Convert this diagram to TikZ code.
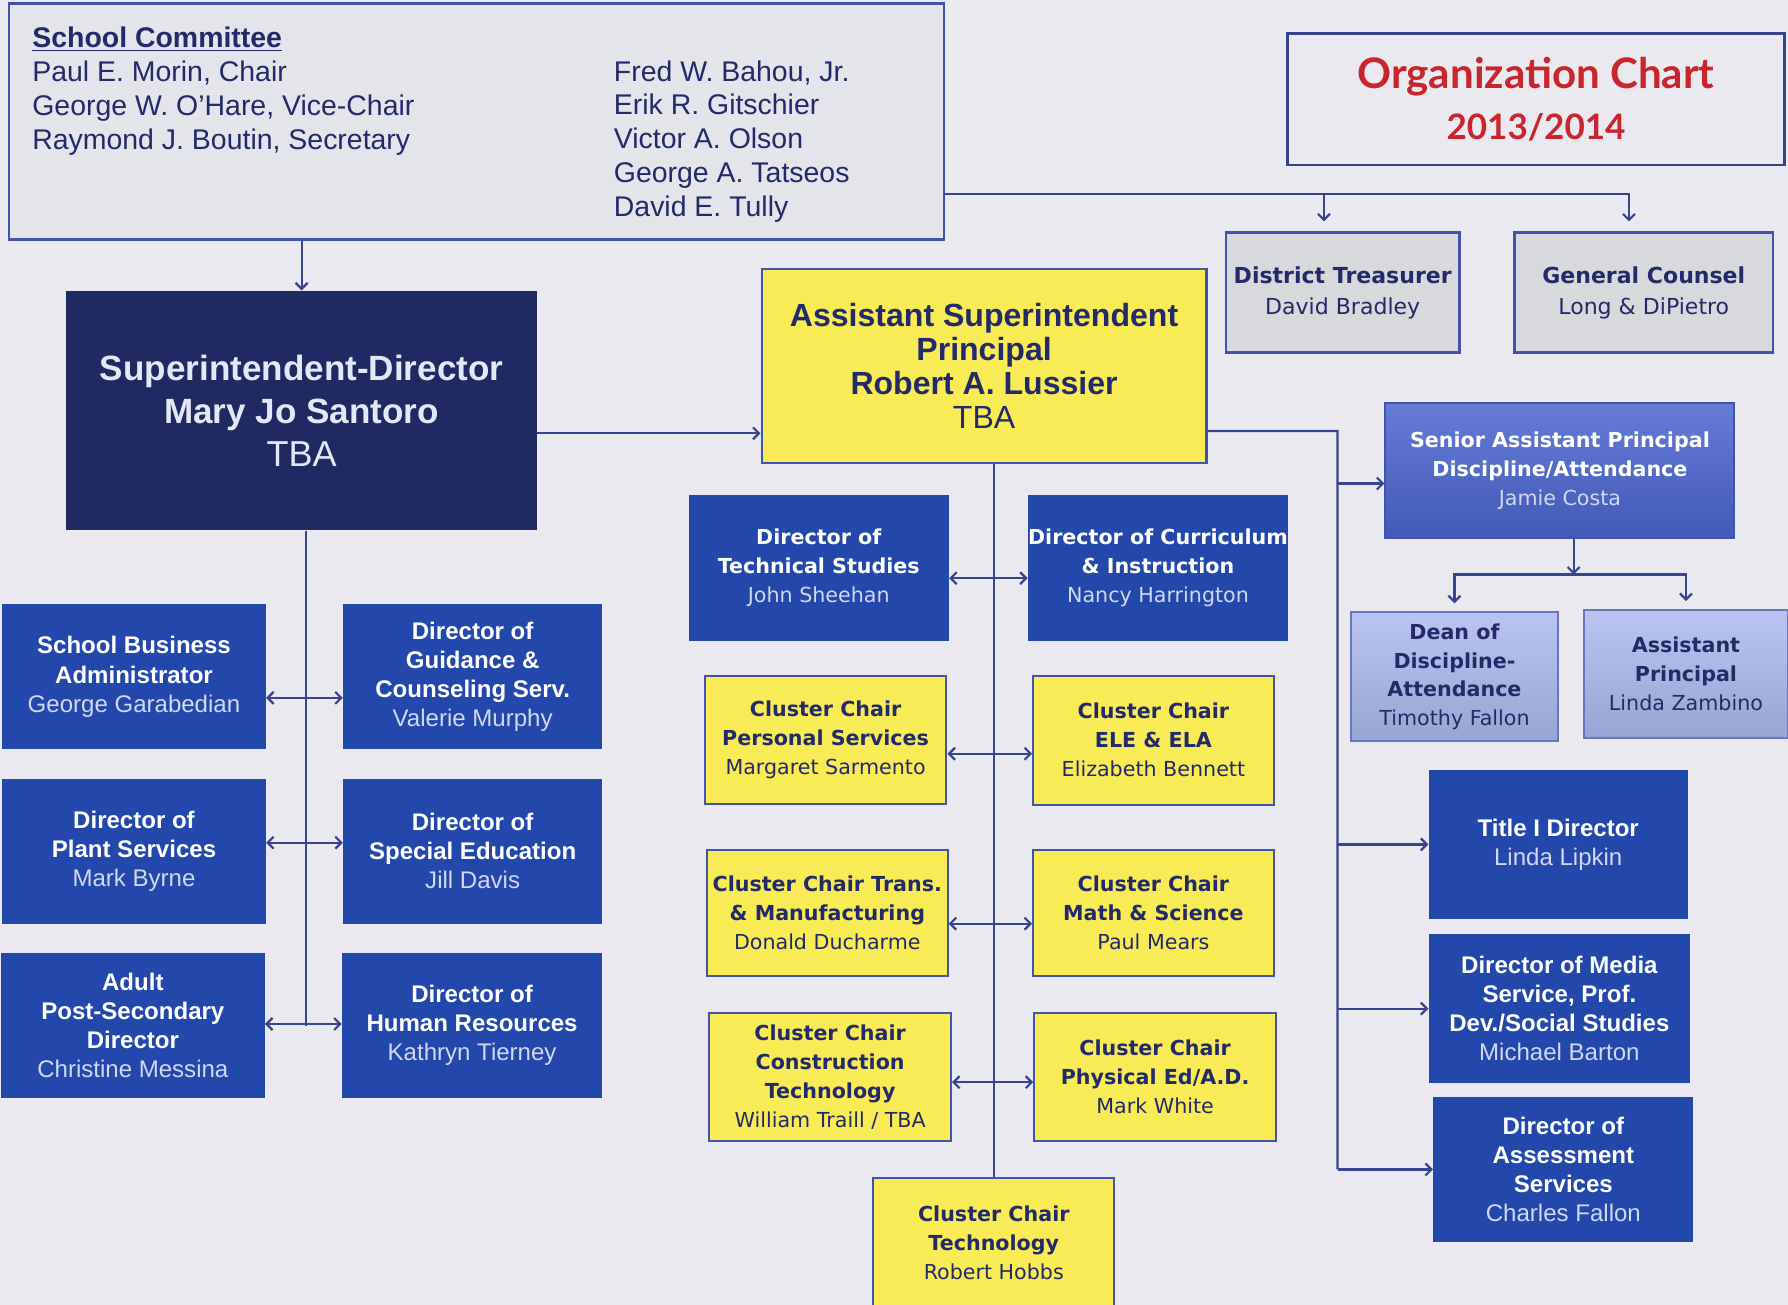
\documentclass[tikz,border=0pt]{standalone}
\usepackage{fontspec}
\setmainfont{Liberation Sans}
\newfontfamily\verd{DejaVu Sans}
\newfontfamily\titlefont{Lato}
\usetikzlibrary{arrows.meta}

\definecolor{pagebg}{HTML}{E9E9EF}
\definecolor{panelgray}{HTML}{E3E5EA}
\definecolor{linkblue}{HTML}{38448E}
\definecolor{edgeblue}{HTML}{4352AE}
\definecolor{navy}{HTML}{1F2A62}
\definecolor{deptblue}{HTML}{2248AC}
\definecolor{midblue}{HTML}{4A66D0}
\definecolor{paleblue}{HTML}{A8B7EC}
\definecolor{chairyellow}{HTML}{F8EB55}
\definecolor{inkblue}{HTML}{222A6A}
\definecolor{chartred}{HTML}{C9252D}
\definecolor{namegray}{HTML}{D0D8F0}

\newcommand{\who}[1]{{\mdseries #1}}
\newcommand{\wholt}[1]{{\mdseries\color{namegray}#1}}

\tikzset{
  boxsize/.style 2 args={minimum width=#1*0.02cm, minimum height=#2*0.02cm},
  base/.style={inner sep=0pt, align=center},
  dept/.style={base, fill=deptblue, text=white, font=\fontsize{12}{14.5}\selectfont\bfseries},
  deptv/.style={dept, font=\verd\fontsize{10.3}{14.5}\selectfont\bfseries},
  chair/.style={base, fill=chairyellow, draw=edgeblue, line width=1pt, text=inkblue,
    font=\verd\fontsize{10.3}{14.5}\selectfont\bfseries},
  grayv/.style={base, top color=panelgray!88!gray, middle color=panelgray!70!white, bottom color=panelgray!88!gray,
    draw=edgeblue, line width=1.2pt, text=inkblue, font=\verd\fontsize{11}{15.4}\selectfont\bfseries},
  senior/.style={base, top color=midblue!85!white, middle color=midblue, bottom color=midblue!88!black,
    draw=edgeblue, line width=1pt, text=white, font=\verd\fontsize{10.3}{14.5}\selectfont\bfseries},
  aide/.style={base, top color=paleblue!80!white, middle color=paleblue, bottom color=paleblue!90!black,
    draw=edgeblue!80, line width=1pt, text=inkblue, font=\verd\fontsize{10.3}{14.4}\selectfont\bfseries},
  link/.style={draw=linkblue, line width=1.1pt},
  >={Straight Barb[length=3pt,width=6pt]}
}

\begin{document}
\begin{tikzpicture}[x=0.02cm, y=-0.02cm]
  \useasboundingbox (0,0) rectangle (1568,1144);
  \fill[pagebg] (0,0) rectangle (1568,1144);

  % Committee panel
  \node[base, fill=panelgray, draw=edgeblue, line width=1.2pt, boxsize={820}{207}] (committee) at (418,106.5) {};
  \node[anchor=west, align=left, inner sep=0pt, text=inkblue, font=\fontsize{14.2}{16.9}\selectfont] (officers) at (28,80)
    {\underline{\textbf{School Committee}}\\Paul E. Morin, Chair\\George W. O'Hare, Vice-Chair\\Raymond J. Boutin, Secretary};
  \node[anchor=west, align=left, inner sep=0pt, text=inkblue, font=\fontsize{14.2}{16.9}\selectfont] (members) at (538,124)
    {Fred W. Bahou, Jr.\\Erik R. Gitschier\\Victor A. Olson\\George A. Tatseos\\David E. Tully};

  % Title
  \node[base, draw=edgeblue!80!black, line width=1.2pt, text=chartred, font=\titlefont\bfseries, boxsize={436}{115}] (orgchart) at (1347,87)
    {\fontsize{21}{24}\selectfont Organization Chart\\[8pt]\fontsize{17.5}{20}\selectfont 2013/2014};

  \node[grayv, boxsize={205}{105}] (dtreas) at (1177.5,256.5) {District Treasurer\\\who{David Bradley}};
  \node[grayv, boxsize={227}{105}] (gcounsel) at (1441.5,256.5) {General Counsel\\\who{Long \& DiPietro}};

  % Top of the chart
  \node[base, fill=navy, text=namegray!60!white, font=\fontsize{17.5}{21.5}\selectfont\bfseries, boxsize={413}{210}] (super) at (264.5,360)
    {Superintendent-Director\\Mary Jo Santoro\\{\fontsize{18}{21.5}\selectfont\mdseries TBA}};
  \node[base, fill=chairyellow, draw=edgeblue, line width=1.2pt, text=inkblue, font=\fontsize{16}{16.9}\selectfont\bfseries, boxsize={390}{170}] (asst) at (863,321)
    {Assistant Superintendent\\Principal\\Robert A. Lussier\\\who{TBA}};

  % Left column
  \node[dept, boxsize={231}{127}] (sba) at (117.5,593.5) {School Business\\Administrator\\\wholt{George Garabedian}};
  \node[dept, boxsize={227}{127}] (guid) at (414.5,593.5) {Director of\\Guidance \&\\Counseling Serv.\\\wholt{Valerie Murphy}};
  \node[dept, boxsize={231}{127}] (plant) at (117.5,746.5) {Director of\\Plant Services\\\wholt{Mark Byrne}};
  \node[dept, boxsize={227}{127}] (sped) at (414.5,746.5) {Director of\\Special Education\\\wholt{Jill Davis}};
  \node[dept, boxsize={231}{127}] (adult) at (116.5,899.5) {Adult\\Post-Secondary\\Director\\\wholt{Christine Messina}};
  \node[dept, boxsize={228}{127}] (hr) at (414,899.5) {Director of\\Human Resources\\\wholt{Kathryn Tierney}};

  % Middle column
  \node[deptv, boxsize={228}{128}] (techst) at (718,498) {Director of\\Technical Studies\\\wholt{John Sheehan}};
  \node[deptv, boxsize={227}{128}] (curric) at (1015.5,498) {Director of Curriculum\\\& Instruction\\\wholt{Nancy Harrington}};
  \node[chair, boxsize={212}{112}] (cpers) at (724,649) {Cluster Chair\\Personal Services\\\who{Margaret Sarmento}};
  \node[chair, boxsize={211}{113}] (cele) at (1011.5,649) {Cluster Chair\\ELE \& ELA\\\who{Elizabeth Bennett}};
  \node[chair, boxsize={211}{111}] (ctrans) at (725.5,800.5) {Cluster Chair Trans.\\\& Manufacturing\\\who{Donald Ducharme}};
  \node[chair, boxsize={211}{111}] (cmath) at (1011.5,800.5) {Cluster Chair\\Math \& Science\\\who{Paul Mears}};
  \node[chair, boxsize={212}{112}] (cconst) at (728,944.5) {Cluster Chair\\Construction\\Technology\\\who{William Traill / TBA}};
  \node[chair, boxsize={212}{113}] (cpe) at (1013,944.5) {Cluster Chair\\Physical Ed/A.D.\\\who{Mark White}};
  \node[chair, boxsize={211}{114}] (ctech) at (871.5,1090) {Cluster Chair\\Technology\\\who{Robert Hobbs}};

  % Right column
  \node[senior, boxsize={306}{119}] (sap) at (1368,412.5) {Senior Assistant Principal\\Discipline/Attendance\\\wholt{Jamie Costa}};
  \node[aide, boxsize={181}{113}] (dean) at (1275.5,593.5) {Dean of\\Discipline-\\Attendance\\\who{Timothy Fallon}};
  \node[aide, boxsize={179}{112}] (apr) at (1478.5,591) {Assistant\\Principal\\\who{Linda Zambino}};
  \node[dept, boxsize={227}{131}] (title) at (1366.5,740.5) {Title I Director\\\wholt{Linda Lipkin}};
  \node[dept, boxsize={229}{131}] (media) at (1367.5,884.5) {Director of Media\\Service, Prof.\\Dev./Social Studies\\\wholt{Michael Barton}};
  \node[dept, boxsize={228}{127}] (assess) at (1371,1025.5) {Director of\\Assessment\\Services\\\wholt{Charles Fallon}};

  % Committee links
  \draw[link,->] (super.north |- committee.south) -- (super.north);
  \coordinate (cjoin) at ([yshift=-1.27cm]committee.east);
  \draw[link,->,shorten >=5pt] (cjoin) -| ([xshift=-0.26cm]gcounsel.north);
  \draw[link,->,shorten >=5pt] (cjoin) -| ([xshift=-0.33cm]dtreas.north);

  % Superintendent branch
  \coordinate (s2a) at ([yshift=-0.4cm]super.east);
  \draw[link,->] (s2a) -- (s2a -| asst.west);
  \draw[link] ([xshift=0.07cm]super.south) -- ([xshift=0.07cm]super.south |- adult.east);
  \draw[link,<->] ([yshift=-0.37cm]sba.east) -- ([yshift=-0.37cm]guid.west);
  \draw[link,<->] ([yshift=0.15cm]plant.east) -- ([yshift=0.15cm]sped.west);
  \draw[link,<->] ([yshift=0.03cm]adult.east) -- ([yshift=0.03cm]hr.west);

  % Principal branch
  \draw[link] (ctech.north |- asst.south) -- (ctech.north);
  \draw[link,<->] ([yshift=-0.18cm]techst.east) -- ([yshift=-0.18cm]curric.west);
  \draw[link,<->] ([yshift=-0.24cm]cpers.east) -- ([yshift=-0.24cm]cele.west);
  \draw[link,<->] ([yshift=-0.19cm]ctrans.east) -- ([yshift=-0.19cm]cmath.west);
  \draw[link,<->] ([yshift=-0.09cm]cconst.east) -- ([yshift=-0.09cm]cpe.west);

  \coordinate (rtop) at ([yshift=-1.14cm]asst.east);
  \coordinate (rturn) at (1173,378);
  \draw[link] (rtop) -- (rturn) -- (rturn |- assess.west);
  \coordinate (sapin) at ([yshift=-0.23cm]sap.west);
  \draw[link,->] (rturn |- sapin) -- (sapin);
  \draw[link,->] (rturn |- title.west) -- (title.west);
  \draw[link,->] (rturn |- media.west) -- (media.west);
  \draw[link,->] (rturn |- assess.west) -- (assess.west);

  % Discipline office
  \coordinate (sapjoin) at ([xshift=0.24cm,yshift=-0.62cm]sap.south);
  \draw[link,->] ([xshift=0.24cm]sap.south) -- (sapjoin);
  \draw[link,->,shorten >=4pt] (sapjoin) -| (dean.north);
  \draw[link,->,shorten >=4pt] (sapjoin) -| (apr.north);
\end{tikzpicture}
\end{document}
